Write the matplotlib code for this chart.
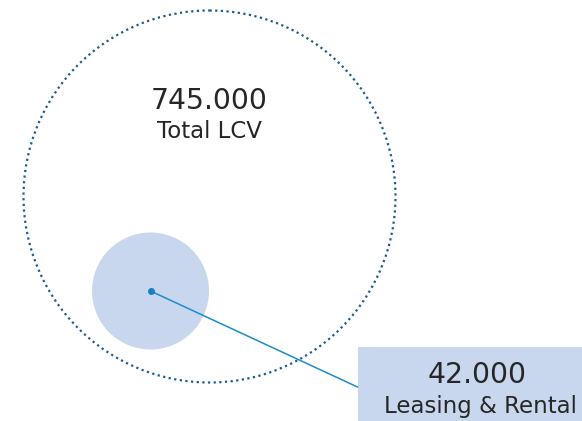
import matplotlib
matplotlib.use("Agg")
import matplotlib.pyplot as plt
from matplotlib.patches import Circle, Rectangle

# Data
labels = ["Total LCV", "Leasing & Rental"]
values = ["745.000", "42.000"]

W, H = 582, 421
fig = plt.figure(figsize=(W / 100, H / 100), dpi=100)
ax = fig.add_axes([0, 0, 1, 1])
ax.set_xlim(0, W)
ax.set_ylim(H, 0)
ax.set_aspect("equal")
ax.axis("off")

font = ["DejaVu Sans"]
text_col = "#262626"

# big dotted circle
big_c, big_r = (209.5, 196.5), 186
ax.add_patch(Circle(big_c, big_r, fill=False, edgecolor="#1b5d8c",
                    linewidth=1.6, linestyle=(0, (1, 1.55))))

# small filled circle
sm_c, sm_r = (150.5, 291), 58.5
ax.add_patch(Circle(sm_c, sm_r, facecolor="#c9d7ee", edgecolor="none"))

# label box
ax.add_patch(Rectangle((357.5, 347), W - 357.5, H - 347 + 5,
                       facecolor="#c9d7ee", edgecolor="none", zorder=2))

# connector line
ax.plot([sm_c[0], 357.5], [sm_c[1], 387], color="#1a8ccf", lw=1.1, zorder=3)
ax.plot([sm_c[0]], [sm_c[1]], "o", color="#1a7fc0", ms=4, zorder=4)

# texts
ax.text(209.5, 101, values[0], ha="center", va="center", fontsize=20.3,
        family=font, color=text_col)
ax.text(209.5, 132, labels[0], ha="center", va="center", fontsize=16.5,
        family=font, color=text_col)
ax.text(477, 375, values[1], ha="center", va="center", fontsize=20.3,
        family=font, color=text_col, zorder=5)
ax.text(480, 406, labels[1], ha="center", va="center", fontsize=16.5,
        family=font, color=text_col, zorder=5)

fig.savefig("out.png", dpi=100)
